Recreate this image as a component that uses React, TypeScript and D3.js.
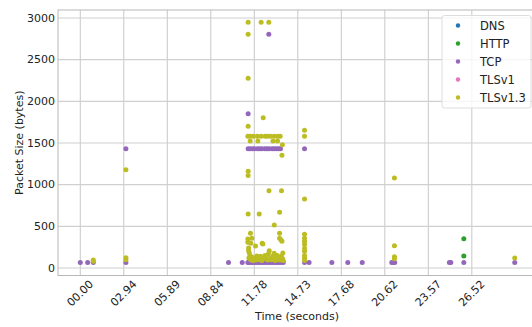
import React from "react";
import * as d3 from "d3";

// protocols shown in the legend, in order, with seaborn tab10 colours
const protocols = ["DNS", "HTTP", "TCP", "TLSv1", "TLSv1.3"];
const colors = ["#1f77b4", "#2ca02c", "#9467bd", "#e377c2", "#bcbd22"];

// [time (s), packet size (bytes)]
const dnsPoints: [number, number][] = [];
const httpPoints: [number, number][] = [
  [25.98, 352], [25.98, 144],
];
const tcpPoints: [number, number][] = [
  [0.0, 66], [0.5, 66], [0.88, 66],
  [3.09, 66], [3.09, 1432],
  [10.04, 66], [10.97, 66],
  [11.35, 66], [11.45, 66], [11.6, 66], [11.7, 66], [11.85, 66], [12.0, 66],
  [12.1, 66], [12.25, 66], [12.4, 66], [12.55, 66], [12.7, 66], [12.85, 66],
  [13.0, 66], [13.15, 66], [13.3, 66], [13.45, 66], [13.6, 66], [13.75, 66],
  [11.37, 1432], [11.5, 1432], [11.65, 1432], [11.8, 1432], [12.0, 1432],
  [12.15, 1432], [12.3, 1432], [12.5, 1432], [12.65, 1432], [12.8, 1432],
  [13.0, 1432], [13.15, 1432], [13.3, 1432], [13.45, 1432], [13.56, 1432],
  [11.37, 1852], [12.77, 2804],
  [15.19, 1432], [15.19, 66], [15.5, 66],
  [17.04, 66], [18.12, 66], [19.1, 66],
  [21.1, 66], [21.2, 66], [21.3, 66],
  [25.0, 66], [25.1, 66], [25.98, 66],
  [29.43, 66],
];
const tlsv1Points: [number, number][] = [];
const tlsv13Points: [number, number][] = [
  [0.88, 82], [0.88, 96],
  [3.09, 100], [3.09, 124], [3.09, 1180],
  [11.37, 2948], [12.25, 2948], [12.77, 2948], [11.37, 2804], [11.37, 2276],
  [12.39, 1804], [11.37, 1700],
  [11.35, 1580], [11.51, 1580], [11.73, 1580], [12.0, 1580], [12.25, 1580],
  [12.52, 1580], [12.68, 1580], [12.88, 1580], [13.13, 1580], [13.38, 1580],
  [13.54, 1580],
  [11.51, 1524], [12.03, 1524], [13.05, 1524], [13.36, 1524],
  [13.69, 1480], [13.66, 1352],
  [11.37, 1160], [11.37, 1110],
  [12.78, 928], [13.63, 928],
  [11.37, 648], [12.12, 648], [13.5, 668], [13.14, 516],
  [11.53, 416], [11.35, 348], [11.62, 356], [11.35, 308], [11.55, 296],
  [12.32, 296], [13.5, 416], [13.5, 356], [13.6, 336], [13.66, 320],
  [11.4, 208], [11.87, 264], [11.96, 144], [12.8, 208], [13.13, 176],
  [12.41, 116], [12.37, 288], [11.4, 240], [11.45, 180], [11.5, 150],
  [11.42, 120], [11.55, 100], [11.65, 130], [11.7, 90], [11.8, 110],
  [11.9, 95], [12.05, 120], [12.15, 100], [12.2, 140], [12.3, 90],
  [12.5, 150], [12.55, 110], [12.6, 130], [12.7, 95], [12.75, 170],
  [12.9, 120], [12.95, 100], [13.05, 140], [13.1, 110], [13.2, 90],
  [13.25, 130], [13.35, 150], [13.4, 100], [13.5, 120], [13.55, 95],
  [13.62, 140], [13.7, 110], [13.75, 90], [13.72, 180],
  [15.19, 1652], [15.19, 1580], [15.19, 828], [15.19, 404], [15.19, 356],
  [15.19, 320], [15.19, 284], [15.19, 236], [15.19, 200], [15.19, 150],
  [15.19, 120], [15.19, 90],
  [21.28, 1080], [21.28, 268], [21.28, 136], [21.28, 112],
  [29.43, 120],
];
const series = [dnsPoints, httpPoints, tcpPoints, tlsv1Points, tlsv13Points];

const xTicks = [0, 2.947, 5.894, 8.841, 11.788, 14.735, 17.682, 20.629, 23.576, 26.523];
const yTicks = [0, 500, 1000, 1500, 2000, 2500, 3000];

const W = 532;
const H = 327;
const font = "DejaVu Sans, sans-serif";

const App = () => {
  const x = d3.scaleLinear().domain([-1.51, 30.87]).range([58, 536]);
  const y = d3.scaleLinear().domain([-90, 3096]).range([275.5, 10]);
  const [x0, x1] = x.range();
  const [y0, y1] = y.range();

  return (
    <svg
      width={W}
      height={H}
      style={{ position: "absolute", left: 0, top: 0, background: "#fff" }}
      fontFamily={font}
    >
      {/* grid */}
      {xTicks.map((t) => (
        <line key={"gx" + t} x1={x(t)} x2={x(t)} y1={y1} y2={y0} stroke="#c8c8c8" strokeWidth={1} />
      ))}
      {yTicks.map((t) => (
        <line key={"gy" + t} x1={x0} x2={x1} y1={y(t)} y2={y(t)} stroke="#d0d0d0" strokeWidth={1.2} />
      ))}
      <rect x={x0} y={y1} width={x1 - x0} height={y0 - y1} fill="none" stroke="#b8b8b8" strokeWidth={1} />

      {/* points */}
      {series.map((pts, i) =>
        pts.map((p, j) => (
          <circle key={i + "-" + j} cx={x(p[0])} cy={y(p[1])} r={2.5} fill={colors[i]} />
        ))
      )}

      {/* y tick labels */}
      {yTicks.map((t) => (
        <text key={"yl" + t} x={55} y={y(t)} fontSize={11} textAnchor="end" dominantBaseline="central" fill="#222">
          {t}
        </text>
      ))}
      {/* x tick labels */}
      {xTicks.map((t) => {
        const label = d3.format("05.2f")(Math.floor(t * 100) / 100);
        const cx = x(t);
        const cy = 293.5;
        return (
          <text
            key={"xl" + t}
            x={cx}
            y={cy}
            fontSize={11}
            textAnchor="middle"
            dominantBaseline="central"
            fill="#222"
            transform={`rotate(-45,${cx},${cy})`}
          >
            {label}
          </text>
        );
      })}

      <text x={(x0 + x1) / 2} y={319.5} fontSize={11} textAnchor="middle" fill="#222">
        Time (seconds)
      </text>
      <text
        x={0}
        y={0}
        fontSize={11}
        textAnchor="middle"
        fill="#222"
        transform={`translate(23,${(y0 + y1) / 2}) rotate(-90)`}
      >
        Packet Size (bytes)
      </text>

      {/* legend */}
      <rect x={442} y={15.5} width={89} height={92.5} rx={2.5} fill="#fff" fillOpacity={0.8} stroke="#dddddd" />
      {protocols.map((name, i) => (
        <g key={name} transform={`translate(0,${25.5 + i * 18})`}>
          <circle cx={458} cy={0} r={2.2} fill={colors[i]} />
          <text x={480} y={0} fontSize={11.5} dominantBaseline="central" fill="#222">
            {name}
          </text>
        </g>
      ))}
    </svg>
  );
};

export default App;
